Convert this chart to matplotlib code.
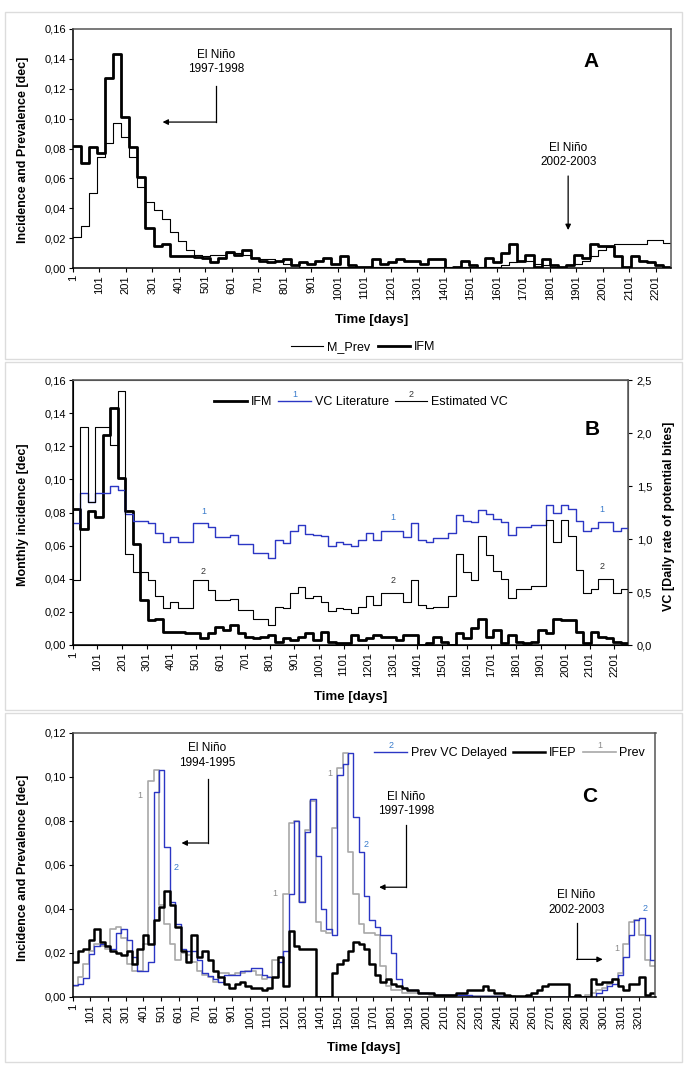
import numpy as np
import matplotlib.pyplot as plt
from matplotlib.patches import Rectangle
from matplotlib.lines import Line2D
from matplotlib.ticker import FuncFormatter

plt.rcParams['font.family'] = ['Liberation Sans', 'DejaVu Sans']

W, H = 685, 1072
MONTH = 30.5  # days per step

# ---- panel A / B : monthly values ----
ifm = [0.082, 0.070, 0.081, 0.077, 0.127, 0.143, 0.101, 0.081, 0.061, 0.027,
       0.015, 0.016, 0.008, 0.008, 0.008, 0.0075, 0.007, 0.004, 0.007, 0.011,
       0.009, 0.012, 0.007, 0.005, 0.004, 0.005, 0.006, 0.002, 0.004, 0.003,
       0.005, 0.007, 0.003, 0.008, 0.002, 0.001, 0.001, 0.006, 0.003, 0.004,
       0.006, 0.005, 0.005, 0.003, 0.006, 0.006, 0.000, 0.001, 0.005, 0.002,
       0.000, 0.007, 0.004, 0.010, 0.016, 0.005, 0.009, 0.001, 0.006, 0.002,
       0.001, 0.002, 0.009, 0.007, 0.016, 0.015, 0.015, 0.008, 0.001, 0.008,
       0.005, 0.004, 0.002, 0.001]

m_prev = [0.021, 0.028, 0.050, 0.074, 0.084, 0.097, 0.088, 0.074, 0.054, 0.044,
          0.039, 0.033, 0.024, 0.018, 0.012, 0.009, 0.008, 0.009, 0.009, 0.010,
          0.010, 0.009, 0.007, 0.006, 0.006, 0.005, 0.003, 0.002,
          0.001, 0.001, 0.001, 0.001, 0.001, 0.001, 0.001, 0.001, 0.001, 0.001,
          0.001, 0.001, 0.001, 0.001, 0.001, 0.001, 0.001, 0.001,
          0.0005, 0.0005, 0.0005, 0.0005, 0.0005, 0.0005, 0.0005,
          0.002, 0.004, 0.005, 0.005, 0.003, 0.002, 0.001, 0.001, 0.002, 0.003,
          0.005, 0.008, 0.012, 0.014, 0.016, 0.016, 0.016, 0.016, 0.019, 0.019,
          0.017]

vc_literature = [1.15, 1.43, 1.35, 1.43, 1.43, 1.50, 1.46, 1.24, 1.17, 1.17,
                 1.15, 1.06, 0.97, 1.02, 0.97, 0.97, 1.15, 1.15, 1.11, 1.02,
                 1.02, 1.04, 0.95, 0.95, 0.87, 0.87, 0.82, 0.99, 0.96, 1.08,
                 1.13, 1.05, 1.04, 1.03, 0.93, 0.97, 0.95, 0.93, 0.99, 1.06,
                 0.99, 1.08, 1.08, 1.08, 1.02, 1.15, 0.99, 0.97, 1.01, 1.01,
                 1.06, 1.23, 1.17, 1.16, 1.27, 1.24, 1.19, 1.16, 1.04, 1.11,
                 1.11, 1.13, 1.13, 1.32, 1.25, 1.32, 1.28, 1.17, 1.08, 1.10,
                 1.16, 1.16, 1.08, 1.10]

vc_estimated = [0.61, 2.06, 1.35, 2.06, 2.06, 1.89, 2.40, 0.86, 0.69, 0.69,
                0.61, 0.46, 0.35, 0.41, 0.35, 0.35, 0.61, 0.61, 0.52, 0.42,
                0.42, 0.43, 0.33, 0.33, 0.25, 0.25, 0.19, 0.36, 0.35, 0.49,
                0.55, 0.44, 0.46, 0.41, 0.32, 0.35, 0.34, 0.30, 0.36, 0.46,
                0.38, 0.49, 0.49, 0.49, 0.41, 0.61, 0.38, 0.35, 0.36, 0.36,
                0.46, 0.86, 0.69, 0.61, 1.03, 0.85, 0.70, 0.62, 0.44, 0.53,
                0.53, 0.56, 0.56, 1.18, 0.97, 1.18, 1.03, 0.71, 0.49, 0.53,
                0.62, 0.62, 0.49, 0.53]

# ---- panel C : monthly values ----
ifep = [0.016, 0.021, 0.022, 0.026, 0.031, 0.025, 0.023, 0.021, 0.020, 0.019,
        0.021, 0.015, 0.022, 0.028, 0.024, 0.035, 0.041, 0.048, 0.042, 0.032,
        0.021, 0.016, 0.028, 0.018, 0.021, 0.017, 0.012, 0.009, 0.006, 0.004,
        0.006, 0.007, 0.005, 0.004, 0.004, 0.003, 0.004, 0.009, 0.018, 0.005,
        0.030, 0.023, 0.022, 0.022, 0.022, 0.000, 0.000, 0.000, 0.011, 0.015,
        0.017, 0.021, 0.025, 0.024, 0.022, 0.015, 0.010, 0.007, 0.008, 0.006,
        0.005, 0.004, 0.003, 0.003, 0.002, 0.002, 0.002, 0.001, 0.001, 0.001,
        0.001, 0.002, 0.002, 0.003, 0.003, 0.003, 0.005, 0.003, 0.002, 0.002,
        0.001, 0.0005, 0.0005, 0.0005, 0.001, 0.002, 0.003, 0.005, 0.006, 0.006,
        0.006, 0.006, 0.000, 0.001, 0.000, 0.000, 0.008, 0.006, 0.007, 0.007,
        0.008, 0.005, 0.003, 0.006, 0.006, 0.009, 0.001, 0.002]

prev_c = [0.005, 0.009, 0.015, 0.021, 0.024, 0.023, 0.022, 0.031, 0.032, 0.027,
          0.015, 0.012, 0.012, 0.024, 0.098, 0.103, 0.042, 0.033, 0.024, 0.017,
          0.020, 0.019, 0.016, 0.012, 0.010, 0.009, 0.007, 0.011, 0.011, 0.010,
          0.011, 0.011, 0.012, 0.012, 0.010, 0.008, 0.009, 0.017, 0.018, 0.047,
          0.079, 0.080, 0.043, 0.076, 0.089, 0.034, 0.030, 0.029, 0.077, 0.104,
          0.111, 0.066, 0.047, 0.033, 0.029, 0.029, 0.028, 0.014, 0.005, 0.003,
          0.003, 0.002, 0.002, 0.002, 0.002, 0.002, 0.001, 0.001, 0.001, 0.001,
          0.001, 0.001, 0.001, 0.0005, 0.0005, 0.0005, 0.0005, 0.0005, 0.0005, 0.0005,
          0.0005, 0.0005, 0.0, 0.0, 0.0, 0.0, 0.0, 0.0, 0.0, 0.0,
          0.0, 0.0, 0.0, 0.0, 0.0, 0.001, 0.002, 0.003, 0.004, 0.006,
          0.008, 0.011, 0.024, 0.034, 0.035, 0.028, 0.017, 0.014]

prev_vc_delayed = [0.0055, 0.006, 0.0085, 0.0195, 0.023, 0.024, 0.023, 0.022, 0.029, 0.031,
                   0.026, 0.018, 0.012, 0.012, 0.016, 0.093, 0.103, 0.068, 0.043, 0.033,
                   0.022, 0.021, 0.021, 0.017, 0.011, 0.0095, 0.008, 0.007, 0.010, 0.010,
                   0.010, 0.012, 0.012, 0.013, 0.013, 0.010, 0.009, 0.009, 0.016, 0.021,
                   0.047, 0.080, 0.043, 0.075, 0.090, 0.064, 0.040, 0.031, 0.028, 0.101,
                   0.106, 0.111, 0.082, 0.066, 0.046, 0.035, 0.032, 0.028, 0.028, 0.020,
                   0.008, 0.004, 0.003, 0.003, 0.002, 0.002, 0.002, 0.001, 0.001, 0.001,
                   0.001, 0.001, 0.001, 0.001, 0.0005, 0.0005, 0.0005, 0.0005, 0.0005, 0.0005,
                   0.0, 0.0, 0.0, 0.0, 0.0, 0.0, 0.0, 0.0, 0.0, 0.0,
                   0.0, 0.0, 0.0, 0.0, 0.0, 0.0, 0.0, 0.002, 0.003, 0.005,
                   0.006, 0.010, 0.018, 0.028, 0.035, 0.036, 0.028, 0.017]

ticks_ab = list(range(1, 2202, 100))
ticks_c = list(range(1, 3202, 100))

BLUE = '#2b36c4'
NUMBLUE = '#3a7ccc'
GREY = '#a8a8a8'


def steps(vals):
    x = 1 + MONTH * np.arange(len(vals) + 1)
    y = np.append(vals, vals[-1])
    return x, y


def comma(dec):
    return FuncFormatter(lambda v, p: f'{v:.{dec}f}'.replace('.', ','))


def style(ax, xticks, ymax, ystep):
    ax.set_xlim(1, 1 + MONTH * (len(ifm) if xticks is ticks_ab else len(ifep)))
    ax.set_ylim(0, ymax)
    ax.set_yticks(np.arange(0, ymax + 1e-9, ystep))
    ax.yaxis.set_major_formatter(comma(2))
    ax.set_xticks(xticks)
    ax.set_xticklabels([str(t) for t in xticks], rotation=90)
    ax.tick_params(direction='out', length=3, width=0.8, labelsize=8, pad=2)
    for s in ('top', 'right'):
        ax.spines[s].set_color('#555555')
    for s in ax.spines.values():
        s.set_linewidth(1.1)


def arrow(ax, tip, start):
    ax.annotate('', xy=tip, xytext=start,
                arrowprops=dict(arrowstyle='-|>', color='black', lw=0.9,
                                mutation_scale=8, shrinkA=0, shrinkB=0))


fig = plt.figure(figsize=(W / 100, H / 100), dpi=100)

# panel frames
for top, bot in ((12, 359), (362, 710), (713, 1062)):
    fig.add_artist(Rectangle((5 / W, 1 - bot / H), 677 / W, (bot - top) / H,
                             transform=fig.transFigure, fill=False,
                             edgecolor='#dcdcdc', lw=1.0))

# ---------------- A ----------------
axA = fig.add_axes([72.7 / W, 1 - 268 / H, 598.3 / W, 239 / H])
x, y = steps(m_prev)
axA.step(x, y, where='post', color='black', lw=0.8, label='M_Prev')
x, y = steps(ifm)
axA.step(x, y, where='post', color='black', lw=2.0, label='IFM')
style(axA, ticks_ab, 0.16, 0.02)
axA.text(542, 0.138, 'El Niño\n1997-1998', ha='center', va='center', fontsize=8.5, linespacing=1.25)
axA.plot([542, 542], [0.1218, 0.0977], color='black', lw=0.9)
arrow(axA, (340, 0.0977), (542, 0.0977))
axA.text(1870, 0.0757, 'El Niño\n2002-2003', ha='center', va='center', fontsize=8.5, linespacing=1.25)
arrow(axA, (1870, 0.0254), (1870, 0.0616))
axA.text(1957, 0.138, 'A', ha='center', va='center', fontsize=15, fontweight='bold')
fig.text(23 / W, 1 - 150 / H, 'Incidence and Prevalence [dec]', rotation=90,
         ha='center', va='center', fontsize=9, fontweight='bold')
fig.text(372 / W, 1 - 320 / H, 'Time [days]', ha='center', va='center',
         fontsize=9.5, fontweight='bold')
fig.legend(handles=[Line2D([], [], color='black', lw=0.8), Line2D([], [], color='black', lw=2.0)],
           labels=['M_Prev', 'IFM'], loc='center', bbox_to_anchor=(363 / W, 1 - 347 / H),
           ncol=2, frameon=False, fontsize=9, handlelength=2.6, handletextpad=0.3,
           columnspacing=0.6)

# ---------------- B ----------------
axB = fig.add_axes([72.7 / W, 1 - 645 / H, 555.7 / W, 265 / H])
axB2 = axB.twinx()
x, y = steps(ifm)
axB.step(x, y, where='post', color='black', lw=2.0, zorder=3)
x, y = steps(vc_literature)
axB2.step(x, y, where='post', color=BLUE, lw=1.0)
x, y = steps(vc_estimated)
axB2.step(x, y, where='post', color='black', lw=0.8)
style(axB, ticks_ab, 0.16, 0.02)
axB2.set_ylim(0, 2.5)
axB2.set_yticks(np.arange(0, 2.51, 0.5))
axB2.yaxis.set_major_formatter(comma(1))
axB2.tick_params(direction='out', length=3, width=0.8, labelsize=8, pad=3)
axB2.spines['right'].set_color('#555555')
axB2.spines['top'].set_color('#555555')
for d in (532, 1302, 2149):
    axB2.text(d, np.interp(d, 1 + MONTH * np.arange(len(vc_literature)), vc_literature) + 0.08,
              '1', color=NUMBLUE, fontsize=6.5, ha='center', va='bottom')
    axB2.text(d, np.interp(d, 1 + MONTH * np.arange(len(vc_estimated)), vc_estimated) + 0.08,
              '2', color='#333333', fontsize=6.5, ha='center', va='bottom')
axB.text(2111, 0.130, 'B', ha='center', va='center', fontsize=15, fontweight='bold')
fig.text(23 / W, 1 - 515 / H, 'Monthly incidence [dec]', rotation=90,
         ha='center', va='center', fontsize=9, fontweight='bold')
fig.text(669 / W, 1 - 516 / H, 'VC [Daily rate of potential bites]', rotation=90,
         ha='center', va='center', fontsize=9, fontweight='bold')
fig.text(351 / W, 1 - 697 / H, 'Time [days]', ha='center', va='center',
         fontsize=9.5, fontweight='bold')
legB = axB.legend(handles=[Line2D([], [], color='black', lw=2.0),
                           Line2D([], [], color=BLUE, lw=1.0),
                           Line2D([], [], color='black', lw=0.8)],
                  labels=['IFM', 'VC Literature', 'Estimated VC'],
                  loc='center', bbox_to_anchor=(0.519, 0.917), ncol=3, frameon=False,
                  fontsize=9, handlelength=2.6, handletextpad=0.3, columnspacing=0.5)

# ---------------- C ----------------
axC = fig.add_axes([72.7 / W, 1 - 997 / H, 582.8 / W, 264 / H])
x, y = steps(prev_c)
axC.step(x, y, where='post', color=GREY, lw=1.2, label='Prev')
x, y = steps(prev_vc_delayed)
axC.step(x, y, where='post', color=BLUE, lw=1.0, label='Prev VC Delayed')
x, y = steps(ifep)
axC.step(x, y, where='post', color='black', lw=1.8, label='IFEP')
style(axC, ticks_c, 0.12, 0.02)
for d, v, s in ((380, 0.0918, '1'), (1146, 0.0472, '1'), (1455, 0.1017, '1'), (3079, 0.0221, '1')):
    axC.text(d, v, s, color='#8c8c8c', fontsize=6.5, ha='center', va='center')
for d, v, s in ((585, 0.0588, '2'), (1659, 0.0691, '2'), (3237, 0.0403, '2')):
    axC.text(d, v, s, color=NUMBLUE, fontsize=6.5, ha='center', va='center')
axC.text(763, 0.1098, 'El Niño\n1994-1995', ha='center', va='center', fontsize=8.5, linespacing=1.25)
axC.plot([763, 763], [0.0991, 0.0700], color='black', lw=0.9)
arrow(axC, (616, 0.0700), (763, 0.0700))
axC.text(1886, 0.0877, 'El Niño\n1997-1998', ha='center', va='center', fontsize=8.5, linespacing=1.25)
axC.plot([1886, 1886], [0.0782, 0.0499], color='black', lw=0.9)
arrow(axC, (1733, 0.0499), (1886, 0.0499))
axC.text(2849, 0.0430, 'El Niño\n2002-2003', ha='center', va='center', fontsize=8.5, linespacing=1.25)
axC.plot([2849, 2849], [0.0335, 0.0171], color='black', lw=0.9)
arrow(axC, (2997, 0.0171), (2849, 0.0171))
axC.text(2924, 0.091, 'C', ha='center', va='center', fontsize=15, fontweight='bold')
fig.text(23 / W, 1 - 868 / H, 'Incidence and Prevalence [dec]', rotation=90,
         ha='center', va='center', fontsize=9, fontweight='bold')
fig.text(364 / W, 1 - 1048 / H, 'Time [days]', ha='center', va='center',
         fontsize=9.5, fontweight='bold')
legC = axC.legend(handles=[Line2D([], [], color=BLUE, lw=1.0),
                           Line2D([], [], color='black', lw=1.8),
                           Line2D([], [], color=GREY, lw=1.2)],
                  labels=['Prev VC Delayed', 'IFEP', 'Prev'],
                  loc='center', bbox_to_anchor=(0.75, 0.923), ncol=3, frameon=False,
                  fontsize=9, handlelength=2.6, handletextpad=0.3, columnspacing=0.5)

# small series numbers above legend handles
fig.canvas.draw()
rend = fig.canvas.get_renderer()
for leg, marks in ((legB, [None, ('1', NUMBLUE), ('2', '#333333')]),
                   (legC, [('2', NUMBLUE), None, ('1', '#8c8c8c')])):
    for line, mk in zip(leg.get_lines(), marks):
        if mk is None:
            continue
        bb = line.get_window_extent(rend)
        fig.text((bb.x0 + bb.x1) / 2 / W, (bb.y1 + 2) / H, mk[0], color=mk[1],
                 fontsize=6.5, ha='center', va='bottom')

fig.savefig('out.png', dpi=100)
